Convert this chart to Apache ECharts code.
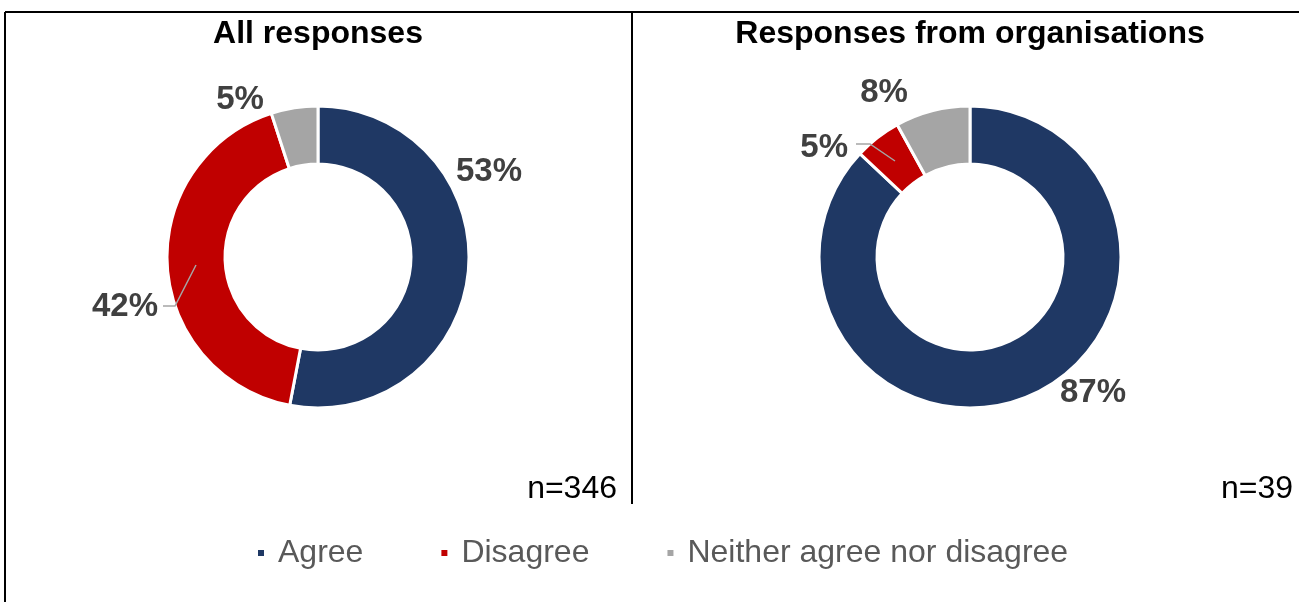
<!DOCTYPE html>
<html>
<head>
    <meta charset="utf-8">
    <title>Responses</title>
    <script src="https://cdn.jsdelivr.net/npm/echarts@6.0.0/dist/echarts.min.js"></script>
    <style>
        body { margin: 0; background: #fff; }
        #chart { width: 1299px; height: 602px; }
    </style>
</head>
<body>
    <div id="chart"></div>
    <script>
        // 数据
        var categories = ['Agree', 'Disagree', 'Neither agree nor disagree'];
        var colors = ['#1F3864', '#C00000', '#A5A5A5'];
        var allValues = [53, 42, 5];
        var orgValues = [87, 5, 8];
        var titles = ['All responses', 'Responses from organisations'];
        var counts = ['n=346', 'n=39'];

        var font = '"Liberation Sans", Arial, sans-serif';

        // 标签位置（按 Excel 图上的位置摆放）
        var labelSpots = [
            [{ x: 489, y: 172 }, { x: 158, y: 307, align: 'right' }, { x: 240, y: 100 }],
            [{ x: 1093, y: 393 }, { x: 848, y: 148, align: 'right' }, { x: 884, y: 93 }]
        ];

        function buildData(values) {
            return values.map(function (v, i) {
                return { name: categories[i], value: v, itemStyle: { color: colors[i] } };
            });
        }

        function makePie(values, cx, idx) {
            return {
                type: 'pie',
                center: [cx, 257],
                radius: [93, 151],
                startAngle: 90,
                clockwise: true,
                avoidLabelOverlap: false,
                data: buildData(values),
                itemStyle: { borderColor: '#fff', borderWidth: 3 },
                label: {
                    show: true,
                    formatter: '{c}%',
                    fontFamily: font,
                    fontWeight: 'bold',
                    fontSize: 33,
                    color: '#404040'
                },
                labelLine: { show: false },
                labelLayout: function (params) {
                    var s = labelSpots[idx][params.dataIndex];
                    return {
                        x: s.x,
                        y: s.y,
                        align: s.align || 'center',
                        verticalAlign: 'middle'
                    };
                },
                emphasis: { disabled: true }
            };
        }

        // 引导线
        var leaderStyle = { stroke: '#A5A5A5', lineWidth: 1.5, fill: null };

        var chart = echarts.init(document.getElementById('chart'));
        chart.setOption({
            animation: false,
            title: [
                { text: titles[0], left: 318, top: 18, textAlign: 'center', padding: 0,
                  textStyle: { fontFamily: font, fontWeight: 'bold', fontSize: 32, color: '#000' } },
                { text: titles[1], left: 970, top: 18, textAlign: 'center', padding: 0,
                  textStyle: { fontFamily: font, fontWeight: 'bold', fontSize: 32, color: '#000' } },
                { text: counts[0], right: 682, top: 473, padding: 0,
                  textStyle: { fontFamily: font, fontWeight: 'normal', fontSize: 32, color: '#000' } },
                { text: counts[1], right: 6, top: 473, padding: 0,
                  textStyle: { fontFamily: font, fontWeight: 'normal', fontSize: 32, color: '#000' } }
            ],
            legend: {
                data: categories,
                left: 256,
                top: 537,
                padding: 0,
                icon: 'rect',
                itemWidth: 8,
                itemHeight: 8,
                itemGap: 76,
                textStyle: { fontFamily: font, fontSize: 32, color: '#595959', padding: [0, 0, 0, 8] }
            },
            series: [makePie(allValues, 318, 0), makePie(orgValues, 970, 1)],
            graphic: [
                { type: 'line', shape: { x1: 5, y1: 12, x2: 1299, y2: 12 }, style: { stroke: '#000', lineWidth: 2 } },
                { type: 'line', shape: { x1: 5, y1: 12, x2: 5, y2: 602 }, style: { stroke: '#000', lineWidth: 2 } },
                { type: 'line', shape: { x1: 632, y1: 12, x2: 632, y2: 504 }, style: { stroke: '#000', lineWidth: 2 } },
                { type: 'polyline', z: 10, shape: { points: [[196, 265], [175, 306], [163, 306]] }, style: leaderStyle },
                { type: 'polyline', z: 10, shape: { points: [[895, 161], [870, 144], [856, 144]] }, style: leaderStyle }
            ]
        });
    </script>
</body>
</html>
